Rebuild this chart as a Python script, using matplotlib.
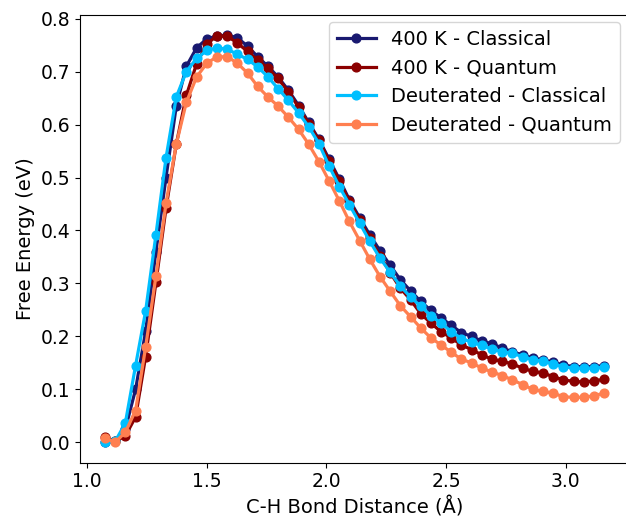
import matplotlib
matplotlib.use("Agg")
import matplotlib.pyplot as plt

bond_distance = [1.075, 1.118, 1.160, 1.203, 1.245, 1.288, 1.330, 1.373, 1.415, 1.458,
                 1.501, 1.543, 1.586, 1.628, 1.671, 1.713, 1.756, 1.798, 1.841, 1.884,
                 1.926, 1.969, 2.011, 2.054, 2.096, 2.139, 2.181, 2.224, 2.267, 2.309,
                 2.352, 2.394, 2.437, 2.479, 2.522, 2.564, 2.607, 2.650, 2.692, 2.735,
                 2.777, 2.820, 2.862, 2.905, 2.947, 2.990, 3.033, 3.075, 3.118, 3.160]

k400_classical = [0.000, 0.002, 0.025, 0.100, 0.210, 0.360, 0.500, 0.635, 0.710, 0.745,
                  0.762, 0.767, 0.769, 0.764, 0.748, 0.728, 0.710, 0.690, 0.665, 0.636,
                  0.604, 0.572, 0.535, 0.497, 0.458, 0.424, 0.392, 0.362, 0.334, 0.307,
                  0.286, 0.266, 0.249, 0.235, 0.221, 0.207, 0.200, 0.191, 0.186, 0.178,
                  0.171, 0.165, 0.159, 0.156, 0.151, 0.146, 0.143, 0.143, 0.143, 0.145]

k400_quantum = [0.010, 0.002, 0.012, 0.048, 0.162, 0.302, 0.442, 0.563, 0.655, 0.715,
                0.753, 0.767, 0.767, 0.754, 0.738, 0.722, 0.706, 0.687, 0.662, 0.633,
                0.602, 0.570, 0.532, 0.494, 0.455, 0.420, 0.386, 0.352, 0.320, 0.291,
                0.269, 0.243, 0.225, 0.209, 0.197, 0.184, 0.175, 0.165, 0.157, 0.153,
                0.148, 0.140, 0.134, 0.131, 0.124, 0.118, 0.115, 0.114, 0.116, 0.119]

deut_classical = [0.000, 0.002, 0.036, 0.145, 0.248, 0.392, 0.537, 0.652, 0.700, 0.725,
                  0.740, 0.745, 0.742, 0.733, 0.723, 0.709, 0.690, 0.668, 0.646, 0.622,
                  0.596, 0.564, 0.522, 0.483, 0.449, 0.414, 0.380, 0.348, 0.321, 0.295,
                  0.274, 0.257, 0.239, 0.225, 0.209, 0.196, 0.189, 0.183, 0.176, 0.171,
                  0.168, 0.162, 0.156, 0.153, 0.148, 0.143, 0.140, 0.140, 0.140, 0.142]

deut_quantum = [0.008, 0.000, 0.019, 0.060, 0.180, 0.314, 0.451, 0.563, 0.642, 0.690,
                0.716, 0.728, 0.728, 0.716, 0.697, 0.672, 0.652, 0.635, 0.614, 0.591,
                0.563, 0.530, 0.494, 0.456, 0.417, 0.381, 0.346, 0.313, 0.285, 0.258,
                0.237, 0.216, 0.197, 0.184, 0.170, 0.157, 0.150, 0.140, 0.133, 0.126,
                0.118, 0.109, 0.100, 0.096, 0.093, 0.086, 0.085, 0.085, 0.088, 0.093]

labels = ["400 K - Classical", "400 K - Quantum", "Deuterated - Classical", "Deuterated - Quantum"]
colors = ["#191970", "#8B0000", "#00BFFF", "#FF7F50"]

fig = plt.figure(figsize=(6.26, 5.21), dpi=100)
ax = fig.add_axes([80 / 626, 58.3 / 521, 549 / 626, 448 / 521])

for ys, lab, c in zip([k400_classical, k400_quantum, deut_classical, deut_quantum], labels, colors):
    ax.plot(bond_distance, ys, marker="o", color=c, label=lab, linewidth=2.3, markersize=6.3)

ax.set_xlabel("C-H Bond Distance (Å)", fontsize=14)
ax.set_ylabel("Free Energy (eV)", fontsize=14)
ax.tick_params(labelsize=13.5)
ax.legend(fontsize=14, loc="upper right", bbox_to_anchor=(629.7 / 626, 1 - 12.3 / 521),
          bbox_transform=fig.transFigure)

fig.savefig("out.png", dpi=100)
